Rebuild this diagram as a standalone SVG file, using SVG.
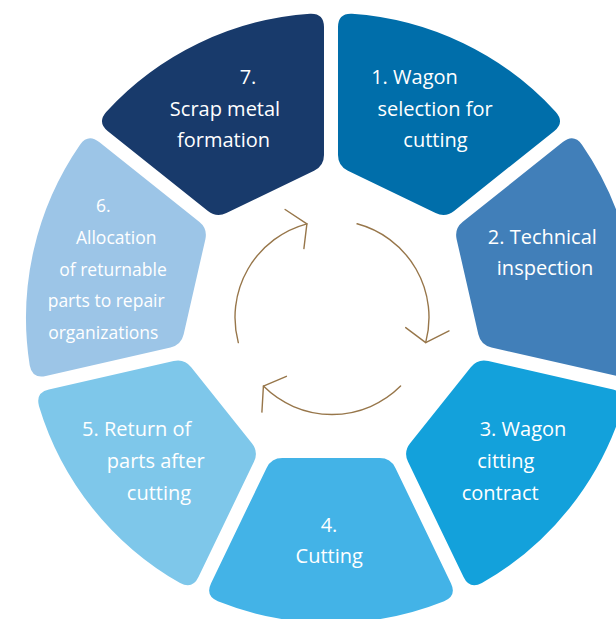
<svg xmlns="http://www.w3.org/2000/svg" width="616" height="619" viewBox="0 0 616 619">
  <defs>
    <style>
      .seg { stroke: none; }
      .t { font-family: "Open Sans", "Noto Sans", "Liberation Sans", sans-serif; font-size: 20px; font-weight: 400; fill: #ffffff; text-anchor: middle; }
      .ts { font-size: 17.5px; }
      .arr { fill: none; stroke: #97764A; stroke-width: 1.4; stroke-linecap: round; stroke-linejoin: round; }
    </style>
    <path id="segshape" d="M -48.65,-140 Q -59.65,-140 -64.42,-149.91 L -119.92,-265.15 Q -125.99,-277.76 -113.13,-283.24 A 305 305 0 0 1 113.13,-283.24 Q 125.99,-277.76 119.92,-265.15 L 64.42,-149.91 Q 59.65,-140 48.65,-140 Z"/>
  </defs>
  <rect width="616" height="619" fill="#ffffff"/>

  <g id="node1">
    <use href="#segshape" class="seg" fill="#006EAA" transform="translate(331 318) rotate(25.714)"/>
    <text class="t" x="414.5" y="83.5">1. Wagon</text>
    <text class="t" x="435" y="116">selection for</text>
    <text class="t" x="435.5" y="147">cutting</text>
  </g>

  <g id="node2">
    <use href="#segshape" class="seg" fill="#417FB9" transform="translate(331 318) rotate(77.143)"/>
    <text class="t" x="542.3" y="243.5">2. Technical</text>
    <text class="t" x="545" y="275">inspection</text>
  </g>

  <g id="node3">
    <use href="#segshape" class="seg" fill="#13A1DB" transform="translate(331 318) rotate(128.571)"/>
    <text class="t" x="523" y="436">3. Wagon</text>
    <text class="t" x="505.8" y="468.3">citting</text>
    <text class="t" x="500.2" y="500">contract</text>
  </g>

  <g id="node4">
    <use href="#segshape" class="seg" fill="#43B3E7" transform="translate(331 318) rotate(180)"/>
    <text class="t" x="329" y="531.7">4.</text>
    <text class="t" x="329.2" y="563.3">Cutting</text>
  </g>

  <g id="node5">
    <use href="#segshape" class="seg" fill="#7EC7EA" transform="translate(331 318) rotate(231.429)"/>
    <text class="t" x="136.7" y="436">5. Return of</text>
    <text class="t" x="155.7" y="468.3">parts after</text>
    <text class="t" x="159" y="500">cutting</text>
  </g>

  <g id="node6">
    <use href="#segshape" class="seg" fill="#9CC5E7" transform="translate(331 318) rotate(282.857)"/>
    <text class="t ts" x="103.3" y="211.7">6.</text>
    <text class="t ts" x="116.2" y="244.3">Allocation</text>
    <text class="t ts" x="113" y="275.7">of returnable</text>
    <text class="t ts" x="106.2" y="307.3">parts to repair</text>
    <text class="t ts" x="103.3" y="339.3">organizations</text>
  </g>

  <g id="node7">
    <use href="#segshape" class="seg" fill="#183A6B" transform="translate(331 318) rotate(334.286)"/>
    <text class="t" x="248" y="84">7.</text>
    <text class="t" x="225" y="116">Scrap metal</text>
    <text class="t" x="223.5" y="147">formation</text>
  </g>

  <g id="connectors">
    <g id="cycle-arrow-a" class="arr">
      <path d="M 357.1,223.8 A 97 97 0 0 1 425.7,342.6"/>
      <polyline points="405.7,327.6 425.7,342.6 449,330.9"/>
    </g>
    <g id="cycle-arrow-b" class="arr" transform="rotate(120 332 317.5)">
      <path d="M 357.1,223.8 A 97 97 0 0 1 425.7,342.6"/>
      <polyline points="405.7,327.6 425.7,342.6 449,330.9"/>
    </g>
    <g id="cycle-arrow-c" class="arr" transform="rotate(240 332 317.5)">
      <path d="M 357.1,223.8 A 97 97 0 0 1 425.7,342.6"/>
      <polyline points="405.7,327.6 425.7,342.6 449,330.9"/>
    </g>
  </g>
</svg>
